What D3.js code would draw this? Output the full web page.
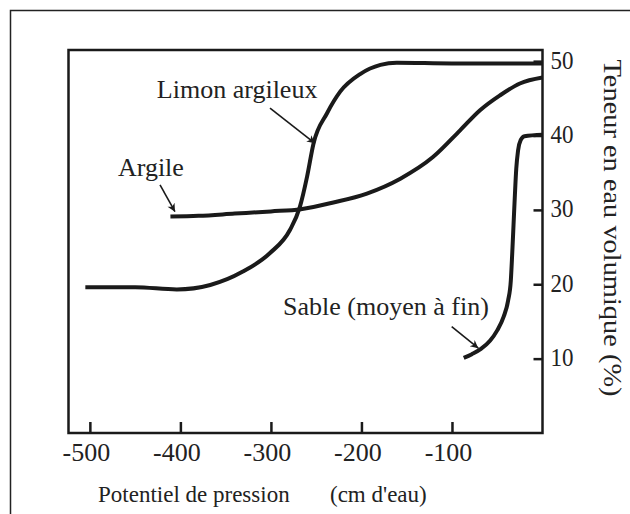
<!DOCTYPE html>
<html>
<head>
<meta charset="utf-8">
<script src="https://cdn.jsdelivr.net/npm/d3@7"></script>
<style>
  html, body { margin: 0; padding: 0; background: #fff; }
  svg { display: block; }
  text { font-family: "Liberation Serif", "DejaVu Serif", serif; fill: #222; }
</style>
</head>
<body>
<svg id="chart" width="630" height="514"></svg>
<script>
// Retention curves: volumetric water content (%) vs pressure potential (cm of water)
const limonArgileux = [
  [-505, 19.6], [-450, 19.6], [-404, 19.3], [-367, 19.9], [-331, 21.7],
  [-301, 24.2], [-279, 27.3], [-268, 30.4], [-260, 34.5], [-253, 38.9],
  [-238, 43.0], [-223.5, 45.9], [-201, 48.3], [-179, 49.5], [-161, 49.8],
  [-100, 49.7], [0, 49.7]
];
const argile = [
  [-411, 29.1], [-380, 29.2], [-340, 29.5], [-300, 29.8], [-267, 30.1],
  [-231, 31.0], [-194, 32.2], [-157, 34.2], [-121, 37.1], [-91, 40.7],
  [-69, 43.4], [-47, 45.4], [-25, 47.0], [0, 47.8]
];
const sable = [
  [-87, 10.1], [-78, 10.6], [-68, 11.3], [-58, 12.4], [-50, 13.8],
  [-43, 15.6], [-38, 17.8], [-35, 20.5], [-33.5, 24], [-32, 28],
  [-30.5, 32], [-29, 35.5], [-27, 38], [-24, 39.4], [-20, 39.9], [0, 40.1]
];

const xTicks = [-500, -400, -300, -200, -100];
const yTicks = [10, 20, 30, 40, 50];
const xTitle = ["Potentiel de pression", "(cm d'eau)"];
const yTitle = "Teneur en eau volumique (%)";

// Curve names with label anchor and arrow (data units)
const labels = [
  { text: "Limon argileux", at: [-426, 45.0], from: [-301, 43.7], to: [-251.3, 38.95] },
  { text: "Argile", at: [-469, 34.5], from: [-422.5, 33.35], to: [-406, 29.76] },
  { text: "Sable (moyen à fin)", at: [-286.6, 15.9], from: [-100.3, 14.3], to: [-70.9, 11.4] }
];

const svg = d3.select("#chart");
const plotLeft = 68.5, plotRight = 542.5, plotTop = 50, plotBottom = 433;

const x = d3.scaleLinear().domain([-523.6, 0]).range([plotLeft, plotRight]);
const y = d3.scaleLinear().domain([0, 51.5]).range([plotBottom, plotTop]);

// outer page frame
svg.append("rect")
  .attr("x", 10.5).attr("y", 10.5).attr("width", 700).attr("height", 600)
  .attr("fill", "none").attr("stroke", "#222").attr("stroke-width", 1.5);

const ink = "#1a1a1a";

// arrow marker
svg.append("defs").append("marker")
  .attr("id", "arrow").attr("viewBox", "0 0 10 10")
  .attr("refX", 10).attr("refY", 5)
  .attr("markerWidth", 10).attr("markerHeight", 8)
  .attr("markerUnits", "userSpaceOnUse")
  .attr("orient", "auto")
  .append("path").attr("d", "M0,0 L10,5 L0,10 L3,5 Z").attr("fill", ink);

// curves
const line = d3.line().x(d => x(d[0])).y(d => y(d[1])).curve(d3.curveMonotoneX);
svg.append("g").selectAll("path")
  .data([limonArgileux, argile, sable])
  .join("path")
  .attr("d", line)
  .attr("fill", "none").attr("stroke", ink).attr("stroke-width", 4)
  .attr("stroke-linejoin", "round");

// plot frame
svg.append("rect")
  .attr("x", plotLeft).attr("y", plotTop).attr("width", plotRight - plotLeft).attr("height", plotBottom - plotTop)
  .attr("fill", "none").attr("stroke", ink).attr("stroke-width", 2.5);

// bottom axis: ticks point inward
const xAxis = d3.axisBottom(x).tickValues(xTicks).tickSize(-11)
  .tickFormat(d => "-" + Math.abs(d));
const gx = svg.append("g").attr("transform", `translate(0,${plotBottom})`).call(xAxis);
gx.select(".domain").remove();
gx.selectAll(".tick line").attr("stroke", ink).attr("stroke-width", 2.5);
gx.selectAll(".tick text")
  .attr("font-family", "Liberation Serif").attr("font-size", 26).attr("fill", "#222")
  .attr("y", 0).attr("dy", "0.35em")
  .attr("transform", "translate(-4,19)");

// right axis: ticks point inward
const yAxis = d3.axisRight(y).tickValues(yTicks).tickSize(-9);
const gy = svg.append("g").attr("transform", `translate(${plotRight},0)`).call(yAxis);
gy.select(".domain").remove();
gy.selectAll(".tick line").attr("stroke", ink).attr("stroke-width", 2.5);
gy.selectAll(".tick text")
  .attr("font-family", "Liberation Serif").attr("font-size", 23).attr("fill", "#222")
  .attr("x", 8).attr("dy", "0.35em").attr("text-anchor", "start")
  .attr("transform", "translate(0,-2) scale(1,1.12)");

// axis titles
svg.append("text").attr("x", 98).attr("y", 502).attr("font-size", 23).text(xTitle[0]);
svg.append("text").attr("x", 330).attr("y", 502).attr("font-size", 23).text(xTitle[1]);
svg.append("text")
  .attr("transform", "translate(604,228) rotate(90)")
  .attr("text-anchor", "middle")
  .attr("font-size", 25)
  .attr("textLength", 337).attr("lengthAdjust", "spacingAndGlyphs")
  .text(yTitle);

// curve labels with arrows
const gl = svg.append("g");
gl.selectAll("text").data(labels).join("text")
  .attr("x", d => x(d.at[0])).attr("y", d => y(d.at[1]))
  .attr("font-size", 26)
  .text(d => d.text);
gl.selectAll("line").data(labels).join("line")
  .attr("x1", d => x(d.from[0])).attr("y1", d => y(d.from[1]))
  .attr("x2", d => x(d.to[0])).attr("y2", d => y(d.to[1]))
  .attr("stroke", ink).attr("stroke-width", 1.6)
  .attr("marker-end", "url(#arrow)");
</script>
</body>
</html>
